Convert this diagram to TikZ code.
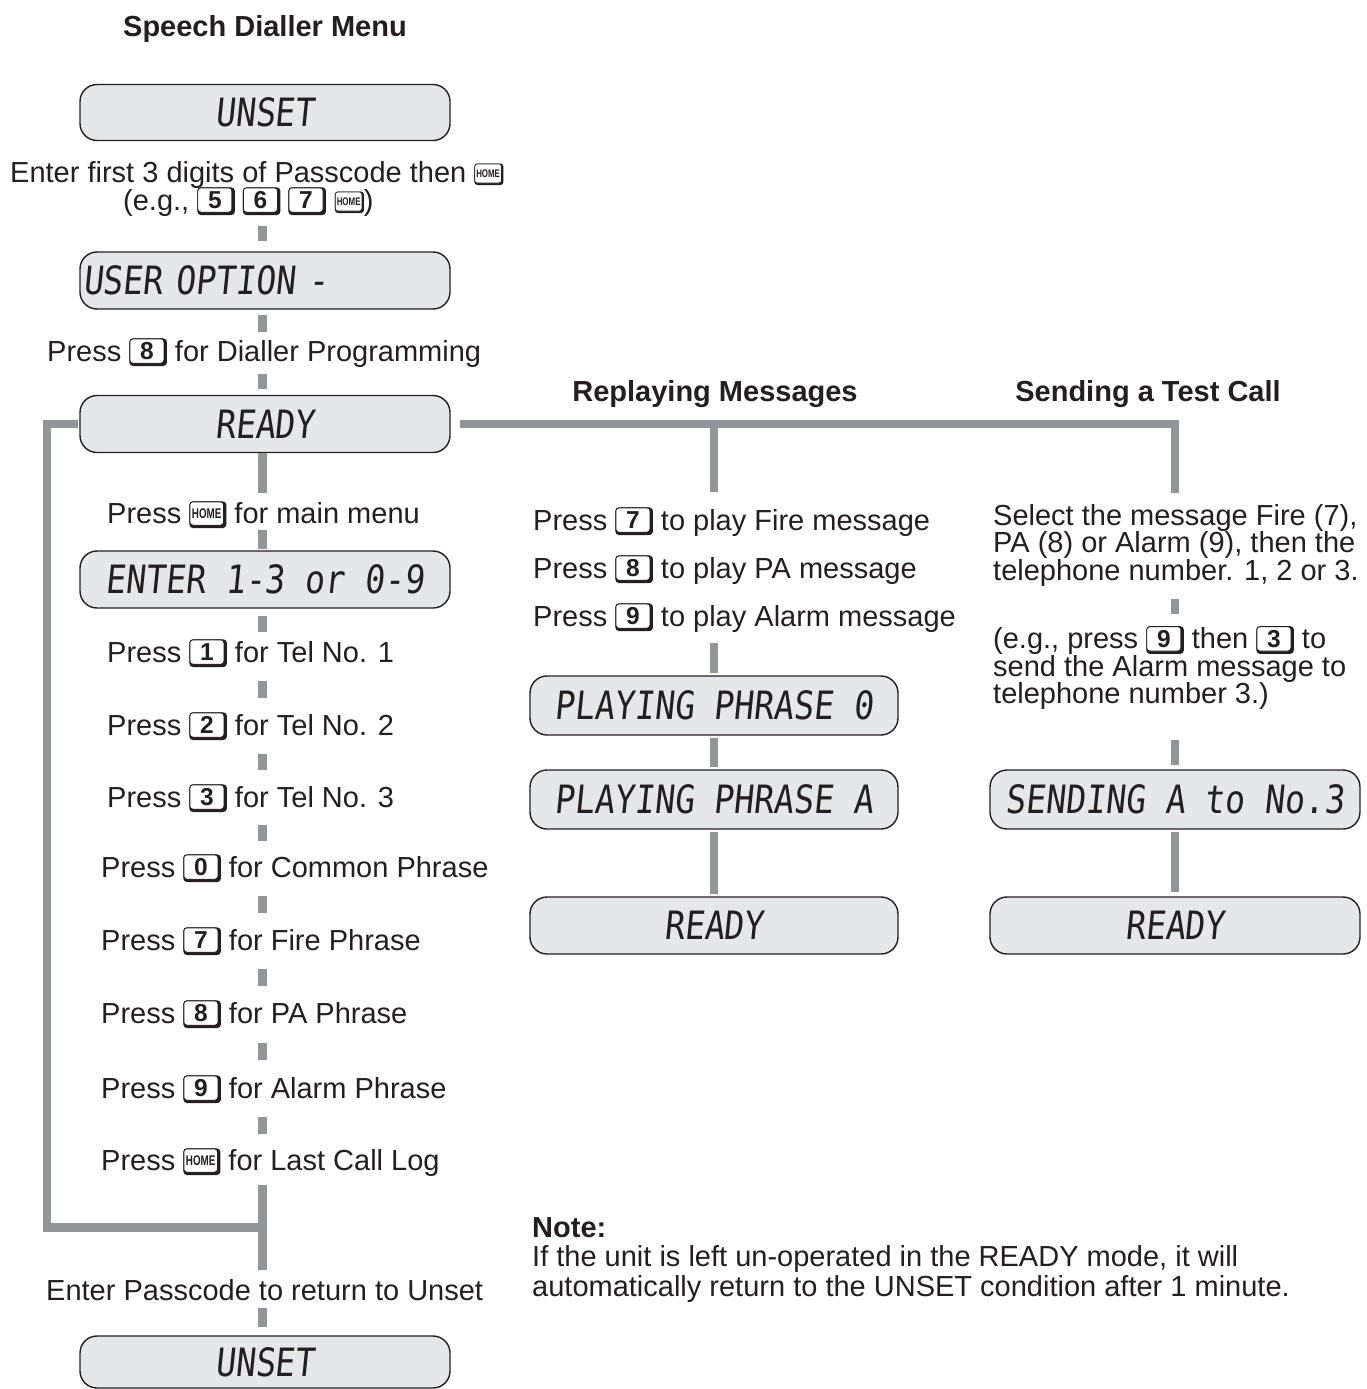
\documentclass[tikz,border=0pt]{standalone}
\usepackage{fontspec}
\setmainfont{Liberation Sans}
\newfontfamily\lcdfont[FakeSlant=0.1,FakeStretch=0.85]{DejaVu Sans Mono}
\usetikzlibrary{calc}
\definecolor{linegray}{HTML}{939598}
\definecolor{lcdfill}{HTML}{E6E7E8}
\definecolor{ink}{HTML}{231F20}
% digit key
\newcommand\kd[1]{\tikz[baseline=0pt,x=1pt,y=1pt]{%
  \fill[ink,rounded corners=3.5pt] (0,-5) rectangle (37.5,22.6);
  \filldraw[fill=white,draw=ink,line width=0.9pt,rounded corners=3pt] (0.45,-2.2) rectangle (34.6,22.15);
  \node[anchor=center,inner sep=0pt,font=\fontsize{24.5}{24.5}\selectfont\bfseries,text=ink] at (17.5,10.0) {#1};}}
% HOME key (large)
\newcommand\kh{\tikz[baseline=0pt,x=1pt,y=1pt]{%
  \fill[ink,rounded corners=3.5pt] (0,-5) rectangle (37,21.6);
  \filldraw[fill=white,draw=ink,line width=0.9pt,rounded corners=3pt] (0.45,-2.2) rectangle (34.2,21.15);
  \node[anchor=center,inner sep=0pt,font=\fontsize{14}{14}\selectfont\bfseries,text=ink,xscale=0.7] at (17.3,9.5) {HOME};}}
% HOME key (small)
\newcommand\khs{\tikz[baseline=0pt,x=1pt,y=1pt]{%
  \fill[ink,rounded corners=3pt] (0,-3) rectangle (29,18.5);
  \filldraw[fill=white,draw=ink,line width=0.7pt,rounded corners=2.5pt] (0.35,-1) rectangle (27,18.1);
  \node[anchor=center,inner sep=0pt,font=\fontsize{11}{11}\selectfont\bfseries,text=ink,xscale=0.72] at (13.7,8.6) {HOME};}}
\newcommand\segc[4]{\draw[conn] ($(#1.south -| #3)!0.5!(#2.north -| #3)+(0,-#4/2)$) -- ++(0,#4);}
\begin{document}
\begin{tikzpicture}[x=1pt,y=-1pt,
  conn/.style={draw=linegray,line width=8.5pt},
  lcd/.style={draw=ink,line width=1.4pt,fill=lcdfill,rounded corners=17pt,
    minimum width=370pt,minimum height=57pt,inner sep=0pt,
    font=\lcdfont\fontsize{39}{39}\selectfont,text=ink},
  txt/.style={font=\fontsize{29}{33}\selectfont,text=ink,inner sep=0pt,anchor=base west},
  head/.style={font=\fontsize{29}{33}\selectfont\bfseries,text=ink,inner sep=0pt,anchor=base},
  para/.style={font=\fontsize{29}{27.5}\selectfont,text=ink,inner sep=0pt,anchor=north west,align=left}]
\useasboundingbox (0,0) rectangle (1367,1389);
\coordinate (sp) at (262.5,0);
\coordinate (mx) at (714,0);
\coordinate (rx) at (1175,0);
\coordinate (lx) at (47,0);
\coordinate (jn) at (262.5,1227.5);

% left column
\node[head] (title) at (265,37) {Speech Dialler Menu};
\node[lcd,minimum height=56pt] (u1) at (265,112.5) {UNSET};
\node[txt] (t1) at (10,182) {Enter first 3 digits of Passcode then \khs};
\node[txt] (t2) at (123,210) {(e.g., \kd{5} \kd{6} \kd{7}\hspace{9pt}\khs)};
\node[lcd,align=left,text width=364pt,inner xsep=3pt] (uo) at (265,280.5) {USER OPTION -};
\node[txt] (t3) at (47,361) {Press \kd{8} for Dialler Programming};
\node[lcd] (rd) at (265,424) {READY};
\node[txt] (t4) at (107,523) {Press \kh{} for main menu};
\node[lcd] (en) at (265,579.5) {ENTER 1-3 or 0-9};
\node[txt] (p1) at (107,662) {Press \kd{1} for Tel No. 1};
\node[txt] (p2) at (107,735) {Press \kd{2} for Tel No. 2};
\node[txt] (p3) at (107,807) {Press \kd{3} for Tel No. 3};
\node[txt] (p0) at (101,877) {Press \kd{0} for Common Phrase};
\node[txt] (p7) at (101,950) {Press \kd{7} for Fire Phrase};
\node[txt] (p8) at (101,1023) {Press \kd{8} for PA Phrase};
\node[txt] (p9) at (101,1098) {Press \kd{9} for Alarm Phrase};
\node[txt] (ph) at (101,1170) {Press \kh{} for Last Call Log};
\node[txt] (ep) at (46,1300) {Enter Passcode to return to Unset};
\node[lcd,minimum height=52pt] (u2) at (265,1362) {UNSET};

% middle column
\node[head] (hm) at (715,401) {Replaying Messages};
\node[txt] (m7) at (533,530) {Press \kd{7} to play Fire message};
\node[txt] (m8) at (533,578) {Press \kd{8} to play PA message};
\node[txt] (m9) at (533,626) {Press \kd{9} to play Alarm message};
\node[lcd,minimum width=368pt,minimum height=59pt] (pl0) at (714,705.5) {PLAYING PHRASE 0};
\node[lcd,minimum width=368pt,minimum height=59pt] (plA) at (714,799.5) {PLAYING PHRASE A};
\node[lcd,minimum width=368pt] (rd2) at (714,925.5) {READY};

% right column
\node[head] (hs) at (1148,401) {Sending a Test Call};
\node[para] (sel) at (993,504) {Select the message Fire (7),\\PA (8) or Alarm (9), then the\\telephone number. 1, 2 or 3.};
\node[para] (eg) at (993,626) {(e.g., press \kd{9} then \kd{3} to\\send the Alarm message to\\telephone number 3.)};
\node[lcd,minimum height=59pt] (snd) at (1175,799.5) {SENDING A to No.3};
\node[lcd] (rd3) at (1175,925.5) {READY};

% note
\node[para,font=\fontsize{29}{29.5}\selectfont] (note) at (532,1217) {\textbf{Note:}\\If the unit is left un-operated in the READY mode, it will\\automatically return to the UNSET condition after 1 minute.};

% connectors left column
\segc{t2}{uo}{sp}{15}
\segc{uo}{t3}{sp}{17}
\segc{t3}{rd}{sp}{15}
\draw[conn] (rd.south -| sp) -- ($(t4.north -| sp)+(0,-8)$);
\segc{t4}{en}{sp}{19}
\segc{en}{p1}{sp}{16}
\segc{p1}{p2}{sp}{17}
\segc{p2}{p3}{sp}{16}
\segc{p3}{p0}{sp}{16}
\segc{p0}{p7}{sp}{17}
\segc{p7}{p8}{sp}{17}
\segc{p8}{p9}{sp}{17}
\segc{p9}{ph}{sp}{17}
\draw[conn] ($(ph.south -| sp)+(0,9)$) -- ($(ep.north -| sp)+(0,-9)$);
\segc{ep}{u2}{sp}{19}
\draw[conn] ([xshift=-1pt]rd.west) -- (rd.west -| lx) -- (jn -| lx) -- (jn);

% connectors to the right
\draw[conn] ([xshift=9pt]rd.east) -- (rd.east -| rx) -- ($(sel.north -| rx)+(0,-11)$);
\draw[conn] (rd.east -| mx) -- ($(m7.north -| mx)+(0,-15)$);
\draw[conn] ($(m9.south -| mx)+(0,11)$) -- ([yshift=2pt]pl0.north);
\draw[conn] ([yshift=-2pt]pl0.south) -- ([yshift=2pt]plA.north);
\draw[conn] ([yshift=-2pt]plA.south) -- ([yshift=2pt]rd2.north);
\segc{sel}{eg}{rx}{15}
\draw[conn] ($(eg.south -| rx)+(0,30)$) -- ([yshift=4pt]snd.north);
\draw[conn] ([yshift=-2pt]snd.south) -- ([yshift=4pt]rd3.north);
\end{tikzpicture}
\end{document}
